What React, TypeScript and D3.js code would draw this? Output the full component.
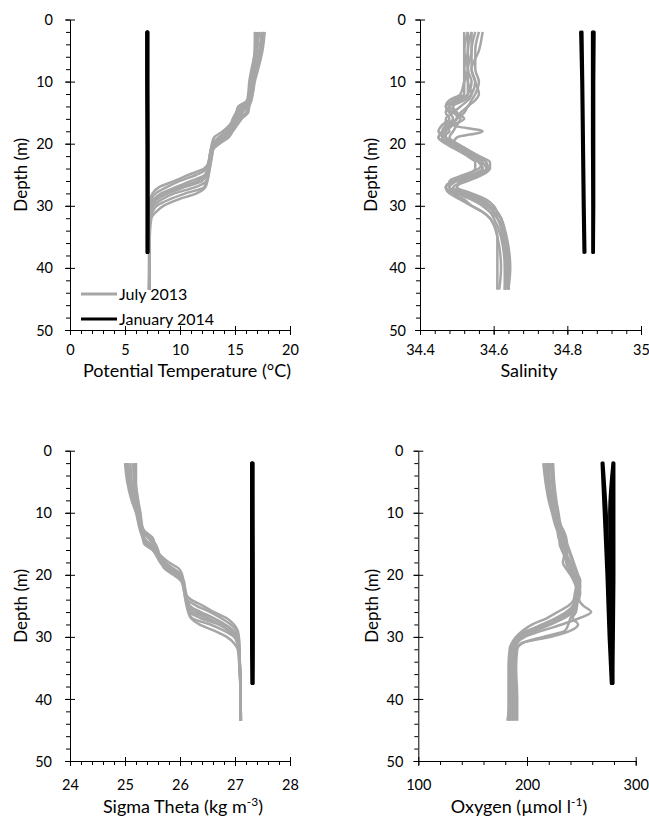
import React, { useRef, useEffect } from "react";
import * as d3 from "d3";

// sample depths (m) of the July 2013 casts and the January 2014 casts
const julyDepth = [2, 5, 8, 10, 12, 13, 14, 15, 16, 17, 18, 19, 20, 21, 22, 23, 24, 25, 26, 27, 28, 29, 30, 31, 32, 35, 40, 43.5];
const janDepth = [2, 10, 20, 30, 37.5];

const seriesNames = ["July 2013", "January 2014"];

// potential temperature (°C)
const julyTemp = [
  [17.6, 17.4, 16.9, 16.6, 16.4, 16.2, 15.3, 15.1, 14.9, 14.5, 13.9, 13.1, 12.9, 12.8, 12.7, 12.6, 12.2, 10.8, 9.5, 8.1, 7.5, 7.3, 7.25, 7.2, 7.2, 7.2, 7.2, 7.15],
  [17.4, 17.3, 16.8, 16.5, 16.4, 16.3, 15.8, 15.3, 15.0, 14.7, 14.2, 13.5, 13.0, 12.9, 12.8, 12.7, 12.5, 11.5, 10.0, 8.8, 7.8, 7.4, 7.3, 7.25, 7.2, 7.2, 7.2, 7.2],
  [17.0, 16.9, 16.6, 16.4, 16.3, 16.3, 16.1, 15.6, 15.2, 14.9, 14.5, 14.0, 13.2, 12.9, 12.8, 12.7, 12.6, 12.3, 11.0, 9.6, 8.3, 7.6, 7.35, 7.25, 7.2, 7.2, 7.2, 7.2],
  [16.8, 16.8, 16.5, 16.3, 16.2, 16.1, 15.6, 15.1, 14.8, 14.6, 14.3, 13.8, 13.1, 12.8, 12.7, 12.6, 12.5, 12.4, 12.0, 10.4, 8.9, 7.9, 7.4, 7.3, 7.25, 7.2, 7.2, 7.2],
  [17.5, 17.2, 16.9, 16.7, 16.6, 16.5, 16.3, 16.2, 15.6, 15.2, 14.8, 14.4, 13.6, 13.0, 12.9, 12.8, 12.7, 12.6, 12.4, 11.4, 9.5, 8.3, 7.6, 7.35, 7.25, 7.2, 7.2, 7.2],
  [17.2, 17.0, 16.7, 16.5, 16.4, 16.3, 16.2, 16.0, 15.4, 15.1, 14.6, 13.9, 13.2, 12.9, 12.8, 12.7, 12.6, 12.5, 12.4, 12.2, 10.5, 9.0, 7.9, 7.5, 7.3, 7.2, 7.2, 7.2],
  [17.7, 17.5, 17.1, 16.8, 16.6, 16.4, 15.9, 15.5, 15.2, 14.9, 14.4, 13.7, 13.0, 12.8, 12.7, 12.6, 12.5, 12.3, 11.6, 10.0, 8.6, 7.7, 7.4, 7.3, 7.25, 7.2, 7.2, 7.25],
  [16.9, 16.8, 16.6, 16.4, 16.3, 16.2, 16.0, 15.7, 15.3, 15.0, 14.7, 14.1, 13.4, 13.0, 12.9, 12.8, 12.7, 12.6, 12.5, 12.3, 11.5, 9.8, 8.5, 7.8, 7.4, 7.25, 7.2, 7.2],
];
const janTemp = [
  [6.97, 6.97, 7.0, 7.0, 7.0],
  [7.0, 7.0, 7.02, 7.03, 7.03],
  [7.03, 7.04, 7.05, 7.05, 7.05],
  [7.06, 7.06, 7.08, 7.08, 7.07],
  [7.09, 7.09, 7.1, 7.1, 7.09],
];

// salinity
const julySal = [
  [34.53, 34.52, 34.52, 34.53, 34.53, 34.50, 34.47, 34.48, 34.49, 34.47, 34.46, 34.46, 34.49, 34.52, 34.55, 34.57, 34.56, 34.52, 34.48, 34.48, 34.52, 34.55, 34.57, 34.59, 34.60, 34.62, 34.63, 34.63],
  [34.55, 34.54, 34.54, 34.55, 34.54, 34.52, 34.49, 34.50, 34.52, 34.49, 34.47, 34.45, 34.48, 34.51, 34.54, 34.58, 34.58, 34.56, 34.50, 34.47, 34.50, 34.54, 34.57, 34.59, 34.61, 34.63, 34.64, 34.64],
  [34.56, 34.55, 34.55, 34.56, 34.55, 34.54, 34.53, 34.51, 34.50, 34.48, 34.47, 34.47, 34.50, 34.53, 34.56, 34.59, 34.59, 34.57, 34.53, 34.49, 34.52, 34.56, 34.59, 34.61, 34.62, 34.635, 34.645, 34.64],
  [34.52, 34.52, 34.53, 34.52, 34.51, 34.48, 34.47, 34.49, 34.51, 34.50, 34.49, 34.48, 34.50, 34.52, 34.53, 34.55, 34.55, 34.53, 34.49, 34.47, 34.49, 34.52, 34.54, 34.57, 34.59, 34.61, 34.61, 34.61],
  [34.57, 34.56, 34.54, 34.55, 34.56, 34.55, 34.53, 34.52, 34.50, 34.49, 34.57, 34.50, 34.49, 34.51, 34.55, 34.57, 34.58, 34.55, 34.51, 34.50, 34.53, 34.57, 34.59, 34.60, 34.62, 34.63, 34.64, 34.635],
  [34.54, 34.53, 34.53, 34.54, 34.53, 34.51, 34.48, 34.47, 34.48, 34.46, 34.45, 34.47, 34.50, 34.53, 34.55, 34.56, 34.57, 34.54, 34.50, 34.48, 34.51, 34.55, 34.58, 34.60, 34.61, 34.625, 34.635, 34.63],
  [34.53, 34.53, 34.52, 34.52, 34.52, 34.49, 34.48, 34.50, 34.50, 34.48, 34.46, 34.45, 34.47, 34.50, 34.53, 34.56, 34.57, 34.55, 34.49, 34.47, 34.48, 34.51, 34.54, 34.57, 34.59, 34.61, 34.62, 34.615],
  [34.54, 34.54, 34.53, 34.53, 34.54, 34.53, 34.51, 34.49, 34.47, 34.47, 34.48, 34.46, 34.48, 34.52, 34.56, 34.58, 34.585, 34.56, 34.52, 34.50, 34.54, 34.58, 34.60, 34.61, 34.62, 34.63, 34.64, 34.64],
];
const janSal = [
  [34.836, 34.839, 34.841, 34.843, 34.845],
  [34.840, 34.842, 34.844, 34.846, 34.848],
  [34.868, 34.868, 34.868, 34.869, 34.869],
  [34.871, 34.870, 34.870, 34.870, 34.870],
  [34.873, 34.872, 34.872, 34.872, 34.871],
];

// sigma theta (kg m-3)
const julySigma = [
  [25.02, 25.06, 25.16, 25.24, 25.3, 25.36, 25.5, 25.54, 25.58, 25.66, 25.8, 25.98, 26.04, 26.06, 26.08, 26.1, 26.2, 26.42, 26.62, 26.85, 26.98, 27.05, 27.07, 27.08, 27.08, 27.09, 27.1, 27.1],
  [25.06, 25.08, 25.18, 25.25, 25.3, 25.33, 25.42, 25.52, 25.57, 25.62, 25.72, 25.88, 26.02, 26.05, 26.07, 26.09, 26.13, 26.3, 26.55, 26.75, 26.92, 27.03, 27.06, 27.07, 27.08, 27.09, 27.1, 27.1],
  [25.15, 25.16, 25.22, 25.27, 25.29, 25.3, 25.34, 25.45, 25.55, 25.6, 25.66, 25.78, 25.97, 26.05, 26.07, 26.09, 26.11, 26.17, 26.38, 26.62, 26.82, 26.97, 27.04, 27.07, 27.08, 27.09, 27.1, 27.1],
  [25.2, 25.2, 25.24, 25.28, 25.31, 25.33, 25.44, 25.55, 25.6, 25.63, 25.7, 25.82, 26.0, 26.07, 26.09, 26.11, 26.13, 26.16, 26.24, 26.5, 26.72, 26.9, 27.02, 27.06, 27.07, 27.09, 27.1, 27.11],
  [25.04, 25.1, 25.17, 25.22, 25.25, 25.28, 25.32, 25.35, 25.5, 25.58, 25.65, 25.72, 25.88, 26.02, 26.06, 26.08, 26.1, 26.13, 26.18, 26.38, 26.7, 26.88, 27.0, 27.05, 27.07, 27.09, 27.1, 27.1],
  [25.1, 25.12, 25.19, 25.24, 25.27, 25.3, 25.32, 25.38, 25.52, 25.58, 25.68, 25.82, 25.98, 26.05, 26.07, 26.09, 26.11, 26.13, 26.16, 26.22, 26.55, 26.8, 26.98, 27.04, 27.07, 27.09, 27.1, 27.1],
  [25.0, 25.04, 25.12, 25.2, 25.26, 25.32, 25.42, 25.5, 25.56, 25.62, 25.73, 25.86, 26.02, 26.06, 26.08, 26.1, 26.12, 26.18, 26.32, 26.6, 26.8, 26.96, 27.04, 27.06, 27.07, 27.09, 27.1, 27.11],
  [25.18, 25.19, 25.23, 25.27, 25.29, 25.31, 25.35, 25.42, 25.52, 25.58, 25.64, 25.76, 25.92, 26.04, 26.06, 26.08, 26.1, 26.12, 26.15, 26.2, 26.35, 26.62, 26.85, 26.98, 27.05, 27.08, 27.1, 27.1],
];
const janSigma = [
  [27.3, 27.3, 27.3, 27.3, 27.31],
  [27.31, 27.31, 27.31, 27.31, 27.31],
  [27.31, 27.32, 27.32, 27.32, 27.32],
  [27.32, 27.32, 27.33, 27.33, 27.32],
  [27.33, 27.33, 27.33, 27.33, 27.33],
];

// oxygen (µmol l-1)
const julyOxy = [
  [217, 218, 221, 224, 227, 229, 231, 230, 232, 234, 233, 236, 240, 243, 245, 244, 243, 238, 228, 218, 205, 196, 190, 186, 184, 183, 183, 183],
  [220, 221, 223, 226, 228, 229, 232, 234, 233, 236, 238, 240, 242, 245, 247, 246, 244, 242, 236, 226, 214, 202, 193, 188, 186, 185, 185, 185],
  [222, 223, 225, 227, 230, 232, 233, 235, 237, 236, 239, 242, 244, 247, 248, 247, 246, 245, 242, 234, 222, 208, 196, 190, 188, 187, 187, 187],
  [224, 225, 227, 229, 231, 233, 235, 236, 238, 240, 242, 243, 245, 248, 249, 248, 248, 252, 259, 248, 232, 214, 198, 191, 189, 188, 188, 188],
  [219, 220, 224, 226, 229, 231, 233, 232, 234, 237, 240, 241, 243, 246, 248, 249, 247, 246, 245, 242, 247, 240, 222, 195, 190, 189, 189, 190],
  [215, 217, 220, 223, 226, 228, 229, 231, 233, 235, 236, 238, 241, 244, 246, 245, 245, 243, 240, 232, 220, 205, 194, 188, 186, 185, 184, 184],
  [223, 224, 226, 228, 231, 234, 236, 237, 239, 241, 243, 245, 247, 249, 248, 247, 246, 244, 238, 228, 215, 200, 191, 187, 185, 184, 184, 182],
  [218, 219, 222, 225, 228, 230, 232, 234, 236, 237, 239, 241, 243, 246, 247, 246, 245, 244, 243, 240, 238, 235, 215, 196, 191, 190, 191, 191],
];
const janOxy = [
  [269, 271, 273.5, 275.5, 277.5],
  [270, 273, 275, 276.5, 278],
  [279, 276, 277, 278, 278.5],
  [279.5, 278.5, 278.5, 278.5, 279],
  [280, 280, 280, 279.5, 279],
];

const depthTicks = [0, 10, 20, 30, 40, 50];
const tempTicks = [0, 5, 10, 15, 20];
const salTicks = [34.4, 34.6, 34.8, 35];
const sigmaTicks = [24, 25, 26, 27, 28];
const oxyTicks = [100, 200, 300];

const GREY = "#a6a6a6";
const FONT = "Lato, 'Open Sans', sans-serif";

const panels = [
  {
    x0: 70, x1: 290, y0: 19.5, y1: 330, domain: [0, 20], ticks: tempTicks, minorStep: 1,
    july: julyTemp, jan: janTemp, title: ["Potential Temperature (°C)"], titleX: 187, titleY: 377,
    depthX: 21, tickGap: 17, labelY: 20, legend: true,
  },
  {
    x0: 420, x1: 641, y0: 19.5, y1: 330, domain: [34.4, 35], ticks: salTicks, minorStep: 0.04,
    july: julySal, jan: janSal, title: ["Salinity"], titleX: 529, titleY: 377,
    depthX: 371, tickGap: 14, labelY: 20, legend: false,
  },
  {
    x0: 70, x1: 290, y0: 450.7, y1: 761, domain: [24, 28], ticks: sigmaTicks, minorStep: 0.2,
    july: julySigma, jan: janSigma, title: ["Sigma Theta (kg m", "-3", ")"], titleX: 183, titleY: 813,
    depthX: 21, tickGap: 18, labelY: 24, legend: false,
  },
  {
    x0: 418.3, x1: 635.7, y0: 450.7, y1: 761, domain: [100, 300], ticks: oxyTicks, minorStep: 20,
    july: julyOxy, jan: janOxy, title: ["Oxygen (µmol l", "-1", ")"], titleX: 519, titleY: 813,
    depthX: 372, tickGap: 15, labelY: 24, legend: false,
  },
];

const App = () => {
  const svgRef = useRef<SVGSVGElement>(null);

  useEffect(() => {
    const svg = d3.select(svgRef.current);
    svg.selectAll("*").remove();

    panels.forEach((p) => {
      const x = d3.scaleLinear().domain(p.domain).range([p.x0, p.x1]);
      const y = d3.scaleLinear().domain([0, 50]).range([p.y0, p.y1]);
      const g = svg.append("g");

      // minor ticks
      const minor = d3.range(p.domain[0], p.domain[1] + p.minorStep / 2, p.minorStep);
      g.append("g")
        .attr("transform", `translate(0,${p.y1})`)
        .call(d3.axisBottom(x).tickValues(minor).tickSize(4).tickFormat(() => ""))
        .call((a) => a.select(".domain").remove());
      g.append("g")
        .attr("transform", `translate(${p.x0},0)`)
        .call(d3.axisLeft(y).tickValues(d3.range(0, 51, 2)).tickSize(4).tickFormat(() => ""))
        .call((a) => a.select(".domain").remove());

      // major ticks + labels
      const gx = g.append("g")
        .attr("transform", `translate(0,${p.y1})`)
        .call(d3.axisBottom(x).tickValues(p.ticks).tickSizeInner(5).tickSizeOuter(0).tickFormat((d) => String(d)));
      gx.selectAll(".tick line").attr("y1", -4);
      gx.selectAll(".tick text").attr("y", p.labelY).attr("dy", "0.35em");

      const gy = g.append("g")
        .attr("transform", `translate(${p.x0},0)`)
        .call(d3.axisLeft(y).tickValues(depthTicks).tickSizeInner(5).tickSizeOuter(0).tickFormat((d) => String(d)));
      gy.selectAll(".tick line").attr("x1", 5);
      gy.selectAll(".tick text").attr("x", -p.tickGap).attr("dy", "0.35em");

      g.selectAll(".tick text").attr("font-family", FONT).attr("font-size", 14.5).attr("fill", "#000");
      g.selectAll(".tick line, .domain").attr("stroke", "#000");

      // profiles
      const julyLine = d3.line<number>()
        .x((v) => x(v))
        .y((_, i) => y(julyDepth[i]))
        .curve(d3.curveMonotoneY);
      const janLine = d3.line<number>()
        .x((v) => x(v))
        .y((_, i) => y(janDepth[i]))
        .curve(d3.curveMonotoneY);

      g.append("g")
        .selectAll("path")
        .data(p.july)
        .enter()
        .append("path")
        .attr("d", (d) => julyLine(d))
        .attr("fill", "none")
        .attr("stroke", GREY)
        .attr("stroke-width", 2.5)
        .attr("stroke-linejoin", "round");

      g.append("g")
        .selectAll("path")
        .data(p.jan)
        .enter()
        .append("path")
        .attr("d", (d) => janLine(d))
        .attr("fill", "none")
        .attr("stroke", "#000")
        .attr("stroke-width", 3)
        .attr("stroke-linecap", "round")
        .attr("stroke-linejoin", "round");

      // axis titles
      g.append("text")
        .attr("transform", `translate(${p.depthX},${(p.y0 + p.y1) / 2}) rotate(-90)`)
        .attr("text-anchor", "middle")
        .attr("dy", "0.35em")
        .attr("font-family", FONT)
        .attr("font-size", 17)
        .text("Depth (m)");

      const t = g.append("text")
        .attr("x", p.titleX)
        .attr("y", p.titleY)
        .attr("text-anchor", "middle")
        .attr("font-family", FONT)
        .attr("font-size", 18);
      t.append("tspan").text(p.title[0]);
      if (p.title.length > 1) {
        t.append("tspan").attr("dy", -7).attr("font-size", 12).text(p.title[1]);
        t.append("tspan").attr("dy", 7).text(p.title[2]);
      }

      if (p.legend) {
        const lg = g.append("g");
        seriesNames.forEach((name, i) => {
          const ly = 294 + i * 25;
          lg.append("line")
            .attr("x1", 81).attr("x2", 117).attr("y1", ly).attr("y2", ly)
            .attr("stroke", i === 0 ? GREY : "#000")
            .attr("stroke-width", 3);
          lg.append("text")
            .attr("x", 119).attr("y", ly).attr("dy", "0.35em")
            .attr("font-family", FONT).attr("font-size", 16)
            .text(name);
        });
      }
    });
  }, []);

  return (
    <svg ref={svgRef} width={649} height={818} style={{ position: "absolute", left: 0, top: 0, background: "#fff" }} />
  );
};

export default App;
